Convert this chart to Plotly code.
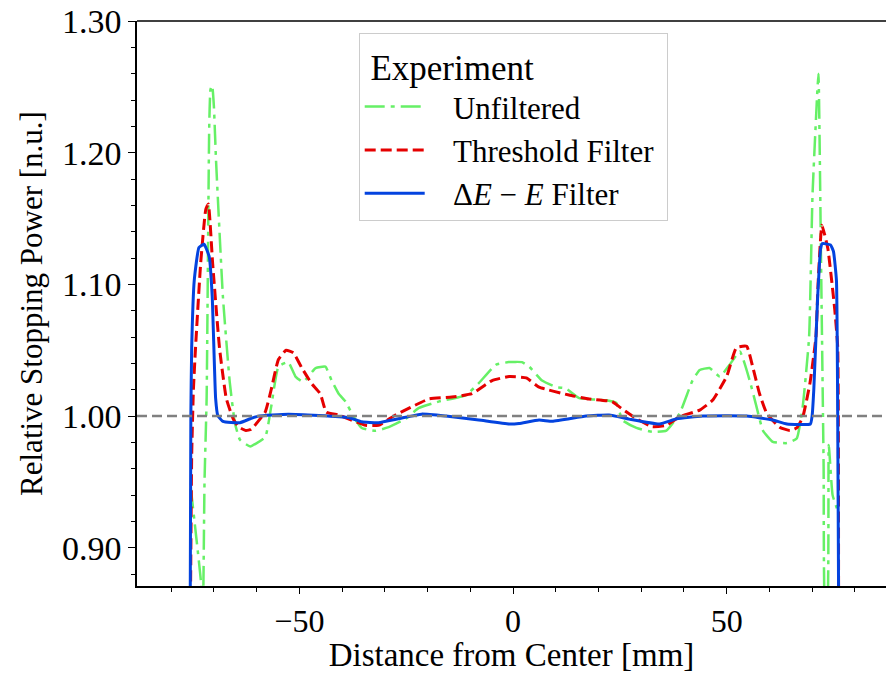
import plotly.graph_objects as go

# ---------------- data ----------------
x_unfiltered = [-75.4, -73.0, -72.6, -72.2, -71.7, -71.1, -70.8, -70.4, -70.0, -69.5, -67.9, -66.3,
                -65.1, -63.9, -61.5, -58.0, -56.6, -54.9, -52.6, -50.9, -49.1, -46.2, -43.9, -42.5,
                -40.8, -39.2, -37.3, -35.4, -32.2, -29.1, -25.1, -22.1, -17.4, -11.0, -8.0, -4.0,
                -1.0, 2.1, 3.8, 6.8, 10.1, 12.4, 15.5, 21.8, 24.2, 25.6, 28.9, 32.6, 35.9, 39.0,
                42.0, 43.7, 46.0, 48.4, 50.7, 53.1, 55.4, 57.0, 58.5, 60.8, 64.1, 66.4, 67.8, 69.3,
                70.1, 71.2, 71.5, 72.1, 72.7, 73.1, 73.5, 73.9, 74.8, 75.8]
y_unfiltered = [0.945, 0.873, 0.84, 0.95, 1.014, 1.219, 1.248, 1.251, 1.235, 1.194, 1.091, 1.026,
                0.995, 0.982, 0.977, 0.984, 1.007, 1.0375, 1.041, 1.030, 1.026, 1.0365, 1.0375, 1.0274,
                1.017, 1.011, 0.9995, 0.991, 0.9888, 0.9916, 0.998, 1.006, 1.011, 1.016, 1.025, 1.039,
                1.041, 1.041, 1.0375, 1.027, 1.022, 1.021, 1.0137, 1.012, 1.010, 0.997, 0.991, 0.988,
                0.989, 1.002, 1.027, 1.035, 1.0365, 1.030, 1.039, 1.049, 1.027, 1.007, 0.989, 0.9805,
                0.9795, 0.983, 1.007, 1.06, 1.168, 1.245, 1.260, 1.116, 0.962, 0.85, 0.85, 0.978,
                0.94, 0.93]

x_threshold = [-75.5, -75.2, -74.8, -74.3, -73.1, -71.9, -71.3, -70.3, -68.7, -67.1, -65.5, -64.3,
               -62.5, -61.3, -58.0, -56.6, -54.9, -53.1, -51.4, -49.5, -47.2, -45.1, -43.7, -40.8,
               -37.8, -34.5, -31.5, -27.5, -23.7, -19.7, -14.3, -9.6, -4.9, -0.9, 3.1, 6.1, 13.1,
               17.8, 23.2, 24.9, 28.9, 32.6, 35.9, 39.0, 43.7, 46.7, 50.0, 52.3, 54.7, 56.1, 57.7,
               59.4, 62.4, 64.8, 66.4, 67.8, 69.5, 70.9, 71.4, 72.3, 73.7, 75.3, 76.0, 76.2]
y_threshold = [0.85, 0.97, 1.02, 1.052, 1.116, 1.157, 1.161, 1.116, 1.052, 1.0134, 0.998, 0.992,
               0.989, 0.990, 1.003, 1.02, 1.043, 1.05, 1.048, 1.037, 1.025, 1.017, 1.003, 1.0008,
               0.997, 0.993, 0.993, 1.0008, 1.007, 1.013, 1.0145, 1.017, 1.027, 1.030, 1.029, 1.022,
               1.016, 1.013, 1.011, 1.007, 0.998, 0.992, 0.993, 0.9995, 1.0046, 1.012, 1.030, 1.052,
               1.053, 1.0375, 1.017, 1.002, 0.9916, 0.989, 0.991, 0.999, 1.025, 1.06, 1.10, 1.145,
               1.127, 1.081, 1.052, 0.85]

x_dee = [-75.6, -75.4, -75.2, -74.6, -73.5, -72.3, -71.1, -70.4, -69.6, -69.1, -67.9, -63.9, -61.5,
         -59.6, -52.6, -38.5, -35.4, -31.5, -26.8, -21.4, -15.7, -8.0, -0.9, 1.4, 6.1, 9.2, 17.1,
         22.5, 27.2, 34.3, 38.3, 44.4, 54.7, 60.8, 64.1, 69.6, 70.0, 70.4, 71.3, 72.0, 72.4, 74.3,
         75.0, 75.7, 76.0, 76.3]
y_dee = [0.80, 1.0, 1.052, 1.103, 1.128, 1.1305, 1.121, 1.091, 1.0134, 1.0005, 0.996, 0.995, 0.998,
         1.0, 1.0015, 0.999, 0.9957, 0.995, 0.998, 1.0015, 1.0, 0.997, 0.994, 0.9944, 0.997, 0.996,
         1.0, 1.0008, 0.9977, 0.994, 0.998, 1.0, 1.0, 0.997, 0.994, 0.994, 1.0, 1.02, 1.09, 1.127,
         1.131, 1.13, 1.125, 1.103, 1.0, 0.80]

reference_level = 1.0
x_range = [-88.0, 87.3]
y_range = [0.871, 1.30]
y_ticks = [0.90, 1.00, 1.10, 1.20, 1.30]
x_ticks = [-50, 0, 50]

series_names = ["Unfiltered", "Threshold Filter", "Δ<i>E</i> − <i>E</i> Filter"]
legend_title = "Experiment"
x_title = "Distance from Center [mm]"
y_title = "Relative Stopping Power [n.u.]"

# ---------------- figure ----------------
FONT = "Liberation Serif"
PAD = "\u00a0\u00a0\u00a0"
TAIL = "\u00a0"
fig = go.Figure()

fig.add_trace(go.Scatter(x=x_unfiltered, y=y_unfiltered, mode="lines",
                         name=PAD + series_names[0] + TAIL,
                         legendgroup="a", line_shape="spline",
                         line=dict(color="#66f066", width=2.5, dash="20px,6px,4px,6px", smoothing=0.4)))
fig.add_trace(go.Scatter(x=x_threshold, y=y_threshold, mode="lines",
                         name=PAD + series_names[1] + TAIL,
                         legendgroup="b", line_shape="spline",
                         line=dict(color="#e50000", width=3, dash="11px,5px", smoothing=0.4)))
fig.add_trace(go.Scatter(x=x_dee, y=y_dee, mode="lines",
                         name=PAD + series_names[2] + TAIL,
                         legendgroup="c", line_shape="spline",
                         line=dict(color="#0343df", width=3, smoothing=0.4)))

fig.add_hline(y=reference_level, line=dict(color="#808080", width=2.5, dash="10px,5px"),
              layer="above")

# top spine (no right spine visible in the reference)
fig.add_shape(type="line", xref="paper", yref="paper", x0=0, x1=1, y0=1, y1=1,
              line=dict(color="black", width=1.5))

fig.update_layout(
    width=887, height=673,
    margin=dict(l=137, r=1, t=21, b=87, autoexpand=False),
    paper_bgcolor="white", plot_bgcolor="white",
    font=dict(family=FONT, color="black", size=31),
    legend=dict(
        x=0.296, y=0.978, xanchor="left", yanchor="top",
        bgcolor="rgba(255,255,255,0.85)", bordercolor="#cccccc", borderwidth=1,
        title=dict(text="\u00a0" + legend_title, font=dict(size=35, family=FONT)),
        font=dict(size=31, family=FONT),
        tracegroupgap=0, itemwidth=60,
    ),
    xaxis=dict(
        range=x_range, tickvals=x_ticks, ticks="outside", ticklen=6, tickwidth=1.3,
        tickcolor="black", showline=True, linecolor="black", linewidth=1.5, automargin=False,
        showgrid=False, zeroline=False, tickfont=dict(size=32, family=FONT),
        minor=dict(dtick=10, tick0=0, ticks="outside", ticklen=4, tickwidth=1, tickcolor="black"),
        title=dict(text=x_title, font=dict(size=33, family=FONT), standoff=7),
    ),
    yaxis=dict(
        range=y_range, tickvals=y_ticks, tickformat=".2f", ticks="outside", ticklen=7,
        tickwidth=1.3, tickcolor="black", showline=True, linecolor="black", linewidth=1.5,
        automargin=False,
        showgrid=False, zeroline=False, tickfont=dict(size=34, family=FONT),
        minor=dict(dtick=0.02, tick0=0.9, ticks="outside", ticklen=4, tickwidth=1, tickcolor="black"),
        title=dict(text=y_title, font=dict(size=31, family=FONT), standoff=10),
    ),
)

fig.write_html("out.html", config={"displayModeBar": False},
               post_script="document.body.style.margin='0px';")
